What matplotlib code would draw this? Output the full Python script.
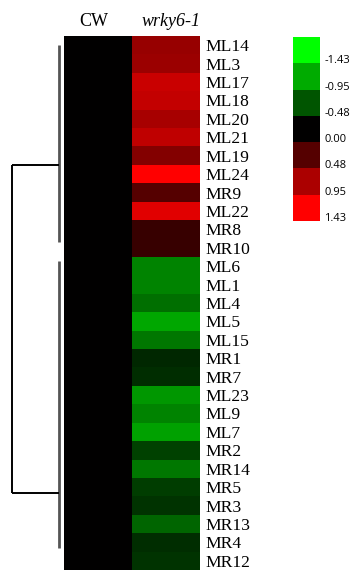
import numpy as np
import matplotlib
matplotlib.use("Agg")
import matplotlib.pyplot as plt
from matplotlib.colors import LinearSegmentedColormap

# ---- data ----
genes = ["ML14", "ML3", "ML17", "ML18", "ML20", "ML21", "ML19", "ML24", "MR9", "ML22",
         "MR8", "MR10", "ML6", "ML1", "ML4", "ML5", "ML15", "MR1", "MR7", "ML23",
         "ML9", "ML7", "MR2", "MR14", "MR5", "MR3", "MR13", "MR4", "MR12"]
columns = ["CW", "wrky6-1"]
cw_values = [0.0] * 29
wrky_values = [0.84, 0.87, 1.12, 1.09, 0.93, 1.07, 0.73, 1.43, 0.48, 1.26, 0.31, 0.31,
               -0.73, -0.73, -0.62, -0.93, -0.67, -0.22, -0.25, -0.84, -0.73, -0.90,
               -0.36, -0.67, -0.34, -0.28, -0.56, -0.25, -0.28]
scale_ticks = [-1.43, -0.95, -0.48, 0.00, 0.48, 0.95, 1.43]
# dendrogram: (start row, end row, join row) for each cluster, in row units
dend_clusters = [(0.49, 11.2, 7.0), (12.2, 27.8, 24.8)]

n = len(genes)

W, H = 351, 570
fig = plt.figure(figsize=(W / 100, H / 100), dpi=100)
fig.patch.set_facecolor("white")

cmap = LinearSegmentedColormap.from_list("gbr", [(0, 1, 0), (0, 0, 0), (1, 0, 0)])
vmin, vmax = -1.43, 1.43

def px_axes(x0, y0, x1, y1):
    return fig.add_axes([x0 / W, 1 - y1 / H, (x1 - x0) / W, (y1 - y0) / H])

top, bottom = 36, 570
ax = px_axes(64, top, 200, bottom)
data = np.array([cw_values, wrky_values]).T
ax.pcolormesh(np.arange(3), np.arange(n + 1), data, cmap=cmap, vmin=vmin, vmax=vmax)
ax.set_xlim(0, 2)
ax.set_ylim(n, 0)
ax.set_xticks([])
ax.yaxis.tick_right()
ax.set_yticks(np.arange(n) + 0.5)
ax.set_yticklabels(genes, family="Liberation Serif", fontsize=12.6)
ax.tick_params(axis="y", length=0, pad=4)
for s in ax.spines.values():
    s.set_visible(False)

# headers
fig.text(94 / W, 1 - 21 / H, columns[0], family="Liberation Serif", fontsize=13,
         ha="center", va="center")
fig.text(171 / W, 1 - 21 / H, columns[1], family="Liberation Serif", style="italic",
         fontsize=13, ha="center", va="center")

# dendrogram
dax = px_axes(0, top, 64, bottom)
dax.set_xlim(0, 64)
dax.set_ylim(n, 0)
dax.axis("off")
joins = []
for (r0, r1, j) in dend_clusters:
    dax.plot([59, 59], [r0, r1], color="#555555", lw=2.0, solid_capstyle="butt")
    dax.plot([12, 59], [j, j], color="black", lw=1.4, solid_capstyle="butt")
    joins.append(j)
dax.plot([12, 12], [min(joins), max(joins)], color="black", lw=1.4, solid_capstyle="butt")

# colour key
cax = px_axes(293, 37, 320, 221)
k = len(scale_ticks)
cax.pcolormesh(np.array([0, 1]), np.arange(k + 1), np.array(scale_ticks).reshape(-1, 1),
               cmap=cmap, vmin=vmin, vmax=vmax)
cax.set_xlim(0, 1)
cax.set_ylim(k, 0)
cax.set_xticks([])
cax.yaxis.tick_right()
cax.set_yticks(np.arange(k) + 0.85)
cax.set_yticklabels(["%.2f" % v for v in scale_ticks], family="Open Sans", fontsize=8)
cax.tick_params(axis="y", length=0, pad=3)
for s in cax.spines.values():
    s.set_visible(False)

fig.savefig("out.png", dpi=100, facecolor="white")
